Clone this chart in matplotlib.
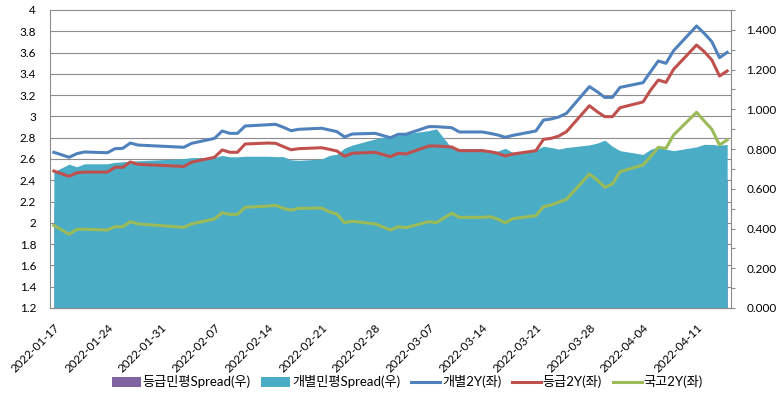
import numpy as np
import pandas as pd
import matplotlib
matplotlib.use('Agg')
import matplotlib.pyplot as plt
import matplotlib.dates as mdates
from matplotlib.ticker import MultipleLocator, FuncFormatter
from matplotlib.transforms import blended_transform_factory

plt.rcParams['font.family'] = ['Lato', 'Noto Sans CJK KR', 'DejaVu Sans']

# business days (Korean holidays skipped)
dates = [
    '2022-01-17', '2022-01-18', '2022-01-19', '2022-01-20', '2022-01-21',
    '2022-01-24', '2022-01-25', '2022-01-26', '2022-01-27', '2022-01-28',
    '2022-02-03', '2022-02-04',
    '2022-02-07', '2022-02-08', '2022-02-09', '2022-02-10', '2022-02-11',
    '2022-02-14', '2022-02-15', '2022-02-16', '2022-02-17', '2022-02-18',
    '2022-02-21', '2022-02-22', '2022-02-23', '2022-02-24', '2022-02-25',
    '2022-02-28', '2022-03-02', '2022-03-03', '2022-03-04',
    '2022-03-07', '2022-03-08', '2022-03-10', '2022-03-11',
    '2022-03-14', '2022-03-15', '2022-03-16', '2022-03-17', '2022-03-18',
    '2022-03-21', '2022-03-22', '2022-03-23', '2022-03-24', '2022-03-25',
    '2022-03-28', '2022-03-29', '2022-03-30', '2022-03-31', '2022-04-01',
    '2022-04-04', '2022-04-05', '2022-04-06', '2022-04-07', '2022-04-08',
    '2022-04-11', '2022-04-12', '2022-04-13', '2022-04-14', '2022-04-15',
]

# left axis (%)
gaebyul_2y = [
    2.663, 2.640, 2.616, 2.650, 2.666, 2.659, 2.697, 2.700, 2.750, 2.731,
    2.710, 2.747, 2.794, 2.863, 2.841, 2.841, 2.910, 2.922, 2.926, 2.898,
    2.866, 2.879, 2.889, 2.873, 2.857, 2.807, 2.835, 2.841, 2.800, 2.832,
    2.832, 2.904, 2.904, 2.894, 2.854, 2.854, 2.841, 2.826, 2.804, 2.822,
    2.863, 2.966, 2.976, 2.995, 3.029, 3.280, 3.233, 3.179, 3.179, 3.273,
    3.317, 3.421, 3.521, 3.499, 3.618, 3.850, 3.781, 3.702, 3.552, 3.602,
]
deunggeup_2y = [
    2.487, 2.462, 2.437, 2.471, 2.477, 2.477, 2.522, 2.522, 2.572, 2.550,
    2.530, 2.570, 2.616, 2.685, 2.663, 2.663, 2.741, 2.750, 2.747, 2.716,
    2.687, 2.697, 2.706, 2.691, 2.675, 2.625, 2.654, 2.663, 2.622, 2.654,
    2.647, 2.722, 2.722, 2.713, 2.678, 2.678, 2.669, 2.654, 2.628, 2.647,
    2.678, 2.785, 2.794, 2.816, 2.857, 3.101, 3.045, 2.998, 2.998, 3.082,
    3.136, 3.248, 3.342, 3.320, 3.443, 3.671, 3.609, 3.530, 3.380, 3.427,
]
gukgo_2y = [
    1.977, 1.935, 1.892, 1.939, 1.940, 1.933, 1.964, 1.964, 2.011, 1.990,
    1.958, 1.990, 2.036, 2.095, 2.080, 2.080, 2.146, 2.158, 2.164, 2.136,
    2.120, 2.136, 2.139, 2.105, 2.083, 2.002, 2.015, 1.990, 1.933, 1.964,
    1.955, 2.011, 2.002, 2.090, 2.052, 2.052, 2.058, 2.036, 2.000, 2.040,
    2.067, 2.152, 2.168, 2.195, 2.221, 2.459, 2.403, 2.334, 2.365, 2.481,
    2.544, 2.622, 2.710, 2.700, 2.826, 3.039, 2.957, 2.879, 2.732, 2.779,
]

# right axis (%p)
deunggeup_spread = [
    0.510, 0.527, 0.545, 0.532, 0.537, 0.544, 0.558, 0.558, 0.561, 0.560,
    0.572, 0.580, 0.580, 0.590, 0.583, 0.583, 0.595, 0.592, 0.583, 0.580,
    0.567, 0.561, 0.567, 0.586, 0.592, 0.623, 0.639, 0.673, 0.689, 0.690,
    0.692, 0.711, 0.720, 0.623, 0.626, 0.626, 0.611, 0.618, 0.628, 0.607,
    0.611, 0.633, 0.626, 0.621, 0.636, 0.642, 0.642, 0.664, 0.633, 0.601,
    0.592, 0.626, 0.632, 0.620, 0.617, 0.632, 0.652, 0.651, 0.648, 0.648,
]
gaebyul_spread = [
    0.686, 0.705, 0.724, 0.711, 0.726, 0.726, 0.733, 0.736, 0.739, 0.741,
    0.752, 0.757, 0.758, 0.768, 0.761, 0.761, 0.764, 0.764, 0.762, 0.762,
    0.746, 0.743, 0.750, 0.768, 0.774, 0.805, 0.820, 0.851, 0.867, 0.868,
    0.877, 0.893, 0.902, 0.804, 0.802, 0.802, 0.783, 0.790, 0.804, 0.782,
    0.796, 0.814, 0.808, 0.800, 0.808, 0.821, 0.830, 0.845, 0.814, 0.792,
    0.773, 0.799, 0.811, 0.799, 0.792, 0.811, 0.824, 0.823, 0.820, 0.823,
]

x = pd.to_datetime(dates)
grid_col = '#8c8c8c'
fs = 8.5

fig = plt.figure(figsize=(7.8, 4), dpi=100)
ax = fig.add_axes([50 / 780, 92 / 400, 681 / 780, 298 / 400])
ax2 = ax.twinx()
# lines (left axis) on top of the areas (right axis)
ax.set_zorder(ax2.get_zorder() + 1)
ax.patch.set_visible(False)

# areas on the right axis
ax2.fill_between(x, 0, deunggeup_spread, color='#8064A2', lw=0, label='등급민평Spread(우)')
ax2.fill_between(x, 0, gaebyul_spread, color='#4BACC6', lw=0, label='개별민평Spread(우)')

# gridlines follow the left axis but sit behind the areas
left_ticks = np.arange(1.2, 4.01, 0.2)
trans = blended_transform_factory(ax2.transAxes, ax.transData)
ax2.hlines(left_ticks, 0, 1, transform=trans, colors=grid_col, lw=0.8, zorder=0, clip_on=False)

# lines on the left axis
ax.plot(x, gaebyul_2y, color='#4F81BD', lw=2.2, label='개별2Y(좌)')
ax.plot(x, deunggeup_2y, color='#C0504D', lw=2.2, label='등급2Y(좌)')
ax.plot(x, gukgo_2y, color='#9BBB59', lw=2.2, label='국고2Y(좌)')

ax.set_xlim(x[0] - pd.Timedelta(hours=12), x[-1] + pd.Timedelta(hours=12))
ax.set_ylim(1.2, 4.0)
ax2.set_ylim(0, 1.5)

ax.yaxis.set_major_locator(MultipleLocator(0.2))
ax.yaxis.set_major_formatter(FuncFormatter(lambda v, p: f'{round(v, 1):g}'))
ax2.yaxis.set_major_locator(MultipleLocator(0.2))
ax2.yaxis.set_minor_locator(MultipleLocator(0.1))
ax2.yaxis.set_major_formatter(FuncFormatter(lambda v, p: f'{v:.3f}'))

ax.xaxis.set_major_locator(mdates.WeekdayLocator(byweekday=mdates.MO))
ax.xaxis.set_major_formatter(mdates.DateFormatter('%Y-%m-%d'))

ax.tick_params(axis='y', length=0, pad=10, labelsize=fs)
ax.tick_params(axis='x', length=0, pad=10, labelsize=fs)
ax2.tick_params(axis='y', which='both', length=3, width=0.8, color=grid_col, pad=8, labelsize=fs)
plt.setp(ax.get_xticklabels(), rotation=45, ha='right', va='top', rotation_mode='anchor')

for a in (ax, ax2):
    a.spines['top'].set_visible(False)
ax.spines['right'].set_visible(False)
ax2.spines['left'].set_visible(False)
ax2.spines['bottom'].set_visible(False)
for s in (ax.spines['left'], ax.spines['bottom'], ax2.spines['right']):
    s.set_color(grid_col)
    s.set_linewidth(0.8)

h1, l1 = ax2.get_legend_handles_labels()
h2, l2 = ax.get_legend_handles_labels()
fig.legend(h1 + h2, l1 + l2, loc='center', bbox_to_anchor=(0.522, 0.045), ncol=5,
           frameon=False, fontsize=9.5, handlelength=2.2, handletextpad=0.15,
           columnspacing=0.8, handleheight=0.7)

fig.savefig('out.png', dpi=100)
